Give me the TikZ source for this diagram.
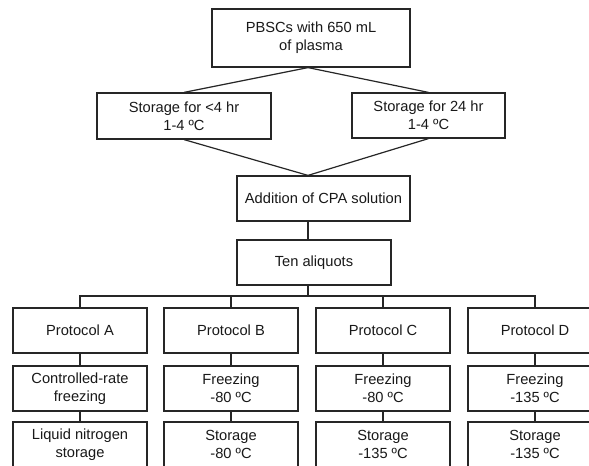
\documentclass[tikz,border=0pt]{standalone}
\usepackage{fontspec}
\setmainfont{Liberation Sans}

\tikzset{
  box/.style={draw=black!85, line width=0.9pt, align=center, inner sep=0pt, text=black!90},
  size/.style 2 args={minimum width=#1*0.75pt, minimum height=#2*0.75pt},
  link/.style={draw=black!85, line width=0.9pt}
}

\begin{document}
\begin{tikzpicture}[x=0.75pt,y=-0.75pt,font=\fontsize{11}{13.5}\selectfont]

\path[fill=white,use as bounding box] (0,0) rectangle (589,466);

% top part
\node[box,size={198}{58}] (plasma) at (311,38) {PBSCs with 650 mL\\of plasma};
\node[box,size={174}{46}] (short) at (184,116) {Storage for <4 hr\\1-4 ºC};
\node[box,size={153}{45}] (long) at (428.5,115.5) {Storage for 24 hr\\1-4 ºC};
\node[box,size={173}{45}] (cpa) at (323.5,198.5) {Addition of CPA solution};
\node[box,size={154}{45}] (ten) at (314,262.5) {Ten aliquots};

% the four protocols
\foreach \x/\p/\f/\s in {80/A/{Controlled-rate\\freezing}/{Liquid nitrogen\\storage},
                         231/B/{Freezing\\-80 ºC}/{Storage\\-80 ºC},
                         383/C/{Freezing\\-80 ºC}/{Storage\\-135 ºC},
                         535/D/{Freezing\\-135 ºC}/{Storage\\-135 ºC}} {
  \node[box,size={134}{45}] (prot\p) at (\x,330.5) {Protocol \p};
  \node[box,size={134}{45}] (frz\p) at (\x,388.5) {\f};
  \node[box,size={134}{45}] (sto\p) at (\x,444.5) {\s};
}

\coordinate (trunk) at (308,0);
\coordinate (bus) at (308,296);

\draw[link] (plasma.south -| trunk) -- (short.north);
\draw[link] (plasma.south -| trunk) -- (long.north);
\draw[link] (short.south) -- (cpa.north -| trunk);
\draw[link] (long.south) -- (cpa.north -| trunk);
\draw[link] (cpa.south -| trunk) -- (ten.north -| trunk);
\draw[link] (ten.south -| trunk) -- (bus);

\draw[link] (protA.north) -- (protA.north |- bus) -- (protD.north |- bus) -- (protD.north);
\foreach \p in {B,C}
  \draw[link] (prot\p.north) -- (prot\p.north |- bus);
\foreach \p in {A,B,C,D} {
  \draw[link] (prot\p) -- (frz\p);
  \draw[link] (frz\p) -- (sto\p);
}

\end{tikzpicture}
\end{document}
